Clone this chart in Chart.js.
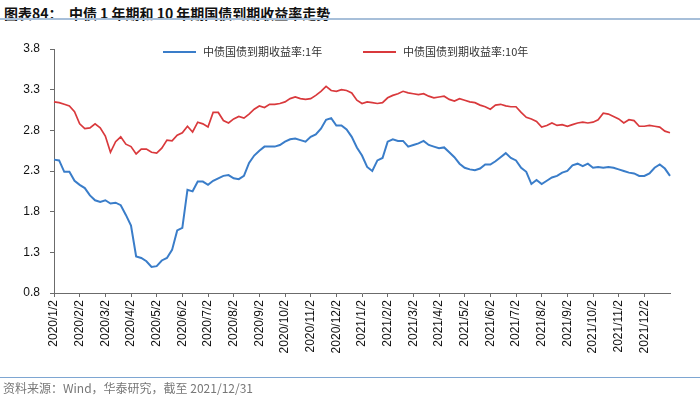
<!DOCTYPE html>
<html>
<head>
<meta charset="utf-8">
<script src="https://cdn.jsdelivr.net/npm/chart.js@4/dist/chart.umd.min.js"></script>
<style>
  body { margin: 0; width: 700px; height: 397px; background: #fff; position: relative; overflow: hidden; }
  #title {
    position: absolute; left: 4px; top: 3px;
    font: bold 14px "Noto Sans CJK SC", "Liberation Sans", sans-serif;
    color: #111; white-space: pre;
  }
  #titleLine { position: absolute; left: 0; top: 18px; width: 700px; height: 2px; background: #a7bfd9; }
  #footLine { position: absolute; left: 0; top: 377px; width: 700px; height: 1px; background: #7ea6d2; }
  #source {
    position: absolute; left: 3px; top: 379px;
    font: 12px "Noto Sans CJK SC", "Liberation Sans", sans-serif; color: #777;
  }
  canvas { position: absolute; left: 0; top: 0; }
</style>
</head>
<body>
<div id="title">图表84：  中债 1 年期和 10 年期国债到期收益率走势</div>
<div id="titleLine"></div>
<canvas id="chart" width="700" height="397"></canvas>
<div id="footLine"></div>
<div id="source">资料来源：Wind，华泰研究，截至 2021/12/31</div>

<script>
// month tick labels (one every 5 samples)
const monthLabels = [
  "2020/1/2", "2020/2/2", "2020/3/2", "2020/4/2", "2020/5/2", "2020/6/2",
  "2020/7/2", "2020/8/2", "2020/9/2", "2020/10/2", "2020/11/2", "2020/12/2",
  "2021/1/2", "2021/2/2", "2021/3/2", "2021/4/2", "2021/5/2", "2021/6/2",
  "2021/7/2", "2021/8/2", "2021/9/2", "2021/10/2", "2021/11/2", "2021/12/2"
];
const samplesPerMonth = 5;

const yield1Y = [
  2.44, 2.43, 2.29, 2.29, 2.18, 2.13, 2.09, 2.00, 1.94, 1.92,
  1.94, 1.90, 1.91, 1.88, 1.76, 1.63, 1.25, 1.23, 1.19, 1.12,
  1.13, 1.20, 1.23, 1.33, 1.57, 1.60, 2.07, 2.05, 2.17, 2.17,
  2.13, 2.18, 2.21, 2.24, 2.25, 2.21, 2.20, 2.24, 2.40, 2.49,
  2.55, 2.60, 2.60, 2.60, 2.62, 2.66, 2.69, 2.70, 2.68, 2.66,
  2.72, 2.75, 2.82, 2.93, 2.95, 2.86, 2.86, 2.81, 2.72, 2.59,
  2.49, 2.35, 2.30, 2.43, 2.46, 2.66, 2.69, 2.67, 2.67, 2.60,
  2.62, 2.64, 2.67, 2.62, 2.60, 2.58, 2.59, 2.53, 2.47, 2.39,
  2.34, 2.32, 2.31, 2.33, 2.38, 2.38, 2.42, 2.47, 2.52, 2.46,
  2.43, 2.34, 2.29, 2.14, 2.19, 2.14, 2.18, 2.22, 2.24, 2.28,
  2.30, 2.37, 2.39, 2.36, 2.39, 2.34, 2.35, 2.34, 2.35, 2.34,
  2.32, 2.30, 2.28, 2.27, 2.24, 2.24, 2.27, 2.34, 2.38, 2.33,
  2.24
];

const yield10Y = [
  3.15, 3.14, 3.12, 3.10, 3.03, 2.88, 2.82, 2.83, 2.88, 2.83,
  2.73, 2.53, 2.66, 2.72, 2.63, 2.60, 2.51, 2.57, 2.57, 2.53,
  2.52, 2.58, 2.68, 2.67, 2.74, 2.77, 2.85, 2.78, 2.90, 2.88,
  2.84, 3.02, 3.02, 2.92, 2.89, 2.94, 2.97, 2.95, 3.00, 3.06,
  3.10, 3.08, 3.12, 3.12, 3.13, 3.15, 3.19, 3.21, 3.19, 3.18,
  3.19, 3.23, 3.28, 3.34, 3.29, 3.28, 3.30, 3.29, 3.26, 3.17,
  3.13, 3.15, 3.14, 3.13, 3.14, 3.20, 3.23, 3.25, 3.28, 3.26,
  3.25, 3.24, 3.25, 3.22, 3.20, 3.21, 3.22, 3.18, 3.16, 3.19,
  3.17, 3.15, 3.14, 3.11, 3.09, 3.06, 3.11, 3.12, 3.10, 3.09,
  3.09, 3.02, 2.96, 2.94, 2.91, 2.84, 2.86, 2.89, 2.86, 2.87,
  2.85, 2.87, 2.89, 2.90, 2.89, 2.90, 2.93, 3.01, 3.00, 2.97,
  2.94, 2.89, 2.93, 2.92, 2.85, 2.85, 2.86, 2.85, 2.84, 2.79,
  2.77
];

const yTicks = [0.8, 1.3, 1.8, 2.3, 2.8, 3.3, 3.8];

const labels = yield1Y.map((v, i) =>
  i % samplesPerMonth === 0 ? (monthLabels[i / samplesPerMonth] || "") : ""
);

const axisColor = "#6b6b6b";

// legend drawn inside the plot, like the original
const legendPlugin = {
  id: "topLegend",
  afterDraw(chart) {
    const ctx = chart.ctx;
    const spots = [163, 363];
    ctx.save();
    ctx.font = '11px "Noto Sans CJK SC", sans-serif';
    ctx.textBaseline = "middle";
    chart.data.datasets.forEach((ds, i) => {
      const x = spots[i];
      const y = 52;
      ctx.strokeStyle = ds.borderColor;
      ctx.lineWidth = 2;
      ctx.beginPath();
      ctx.moveTo(x, y);
      ctx.lineTo(x + 33, y);
      ctx.stroke();
      ctx.fillStyle = "#333";
      ctx.fillText(ds.label, x + 40, y);
    });
    ctx.restore();
  }
};

new Chart(document.getElementById("chart"), {
  type: "line",
  data: {
    labels,
    datasets: [
      {
        label: "中债国债到期收益率:1年",
        data: yield1Y,
        borderColor: "#3a7dc9",
        borderWidth: 2,
        pointRadius: 0,
        tension: 0
      },
      {
        label: "中债国债到期收益率:10年",
        data: yield10Y,
        borderColor: "#d9393c",
        borderWidth: 1.7,
        pointRadius: 0,
        tension: 0
      }
    ]
  },
  options: {
    responsive: false,
    animation: false,
    layout: {
      padding: { top: 49, right: 30, bottom: 44, left: 0 }
    },
    plugins: {
      legend: { display: false },
      tooltip: { enabled: false }
    },
    scales: {
      x: {
        type: "category",
        offset: false,
        afterFit(scale) { scale.height = 60; },
        border: { color: axisColor, width: 1 },
        grid: {
          drawOnChartArea: false,
          tickLength: 4,
          color: axisColor
        },
        ticks: {
          autoSkip: false,
          maxRotation: 90,
          minRotation: 90,
          padding: 3,
          color: "#111",
          font: { family: "Liberation Sans", size: 12 },
          callback(val, idx) {
            return labels[idx] ? labels[idx] : null;
          }
        }
      },
      y: {
        min: 0.8,
        max: 3.8,
        afterFit(scale) { scale.width = 54; },
        afterBuildTicks(scale) {
          scale.ticks = yTicks.map(v => ({ value: v }));
        },
        border: { color: axisColor, width: 1 },
        grid: {
          drawOnChartArea: false,
          tickLength: 4,
          color: axisColor
        },
        ticks: {
          padding: 10,
          color: "#111",
          font: { family: "Liberation Sans", size: 12 },
          callback(v) { return Number(v).toFixed(1); }
        }
      }
    }
  },
  plugins: [legendPlugin]
});
</script>
</body>
</html>
